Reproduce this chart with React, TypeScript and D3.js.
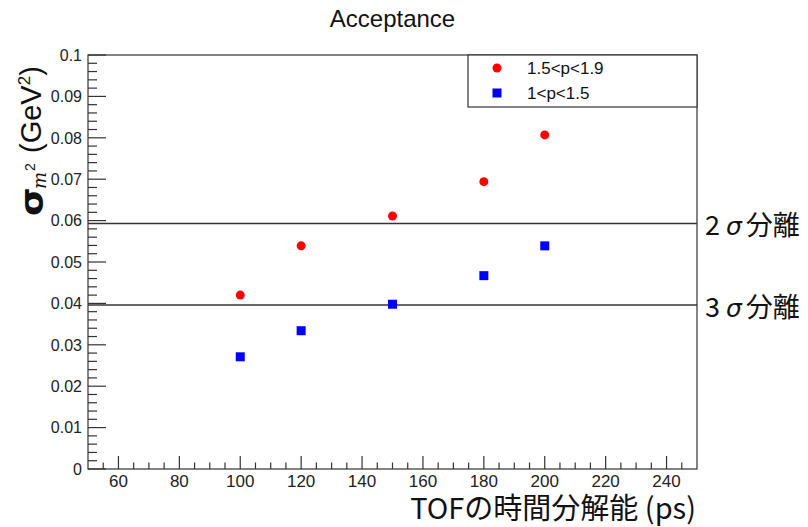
import React from "react";
import * as d3 from "d3";

const resolutions = [100, 120, 150, 180, 200];
const sigmaHighP = [0.042, 0.0539, 0.0611, 0.0694, 0.0807];
const sigmaLowP = [0.0271, 0.0334, 0.0398, 0.0467, 0.0539];
const seriesNames = ["1.5<p<1.9", "1<p<1.5"];
const separationLevels = [0.0593, 0.0396];
const separationNums = ["2", "3"];
const xTicks = [60, 80, 100, 120, 140, 160, 180, 200, 220, 240];
const yTicks = [0, 0.01, 0.02, 0.03, 0.04, 0.05, 0.06, 0.07, 0.08, 0.09, 0.1];
const yTickLabels = ["0", "0.01", "0.02", "0.03", "0.04", "0.05", "0.06", "0.07", "0.08", "0.09", "0.1"];

const W = 808;
const H = 527;
const L = 88, R = 697, T = 55, B = 469;

export default function App() {
  const x = d3.scaleLinear().domain([50, 250]).range([L, R]);
  const y = d3.scaleLinear().domain([0, 0.1]).range([B, T]);
  const xMinor = d3.range(55, 250, 5).filter((v) => v % 20 !== 0);
  const yMinor = d3.range(0, 101, 2).map((v) => v / 1000).filter((v) => Math.round(v * 1000) % 10 !== 0);
  const sans = "'Liberation Sans', Arial, Helvetica, sans-serif";
  const jp = "'Noto Sans CJK JP', 'Noto Sans', sans-serif";
  const axisColor = "#333";
  return (
    <svg width={W} height={H} style={{ position: "absolute", left: 0, top: 0, background: "#fff" }} fontFamily={sans}>
      <rect x={0} y={0} width={W} height={H} fill="#fff" />
      {/* title */}
      <text x={(L + R) / 2} y={27} textAnchor="middle" fontSize={24} fill="#111">Acceptance</text>
      {/* frame */}
      <rect x={L} y={T} width={R - L} height={B - T} fill="none" stroke={axisColor} strokeWidth={1.2} />
      {/* y ticks */}
      {yTicks.map((v, i) => (
        <g key={"yt" + i}>
          <line x1={L} x2={L + 18} y1={y(v)} y2={y(v)} stroke={axisColor} strokeWidth={1.2} />
          <text x={82} y={y(v)} dy="0.36em" textAnchor="end" fontSize={16} fill="#222">{yTickLabels[i]}</text>
        </g>
      ))}
      {yMinor.map((v, i) => (
        <line key={"ym" + i} x1={L} x2={L + 9} y1={y(v)} y2={y(v)} stroke={axisColor} strokeWidth={1.2} />
      ))}
      {/* x ticks */}
      {xTicks.map((v, i) => (
        <g key={"xt" + i}>
          <line x1={x(v)} x2={x(v)} y1={B} y2={B - 13} stroke={axisColor} strokeWidth={1.2} />
          <text x={x(v)} y={487} textAnchor="middle" fontSize={17} fill="#222">{v}</text>
        </g>
      ))}
      {xMinor.map((v, i) => (
        <line key={"xm" + i} x1={x(v)} x2={x(v)} y1={B} y2={B - 6.5} stroke={axisColor} strokeWidth={1.2} />
      ))}
      {/* separation lines */}
      {separationLevels.map((v, i) => (
        <g key={"sep" + i}>
          <line x1={L} x2={R} y1={y(v)} y2={y(v)} stroke="#333" strokeWidth={1.6} />
          <text x={705} y={y(v) + 2} dy="0.36em" fontFamily={jp} fontSize={27} fill="#111">
            <tspan>{separationNums[i]}</tspan>
            <tspan dx={6} fontStyle="italic" fontFamily="'DejaVu Sans', sans-serif" fontSize={25}>σ</tspan>
            <tspan dx={4}>分離</tspan>
          </text>
        </g>
      ))}
      {/* data */}
      {resolutions.map((r, i) => (
        <circle key={"h" + i} cx={x(r)} cy={y(sigmaHighP[i])} r={4.5} fill="#ff0000" />
      ))}
      {resolutions.map((r, i) => (
        <rect key={"l" + i} x={x(r) - 4.5} y={y(sigmaLowP[i]) - 4.5} width={9} height={9} fill="#0000ff" />
      ))}
      {/* legend */}
      <rect x={468} y={T} width={R - 468} height={52} fill="#fff" stroke={axisColor} strokeWidth={1.2} />
      <circle cx={497} cy={68} r={4.5} fill="#ff0000" />
      <text x={527} y={68} dy="0.36em" fontSize={17} fill="#111">{seriesNames[0]}</text>
      <rect x={497 - 4.5} y={93 - 4.5} width={9} height={9} fill="#0000ff" />
      <text x={527} y={93} dy="0.36em" fontSize={17} fill="#111">{seriesNames[1]}</text>
      {/* x title */}
      <text x={696} y={519} textAnchor="end" fontFamily={jp} fontSize={29} fill="#111">TOFの時間分解能 (ps)</text>
      {/* y title */}
      <text transform="translate(43, 216) rotate(-90) scale(1.15, 1)" fontFamily="'DejaVu Sans', sans-serif" fontWeight="bold" fontSize={32} fill="#111">σ</text>
      <text transform="translate(46, 189) rotate(-90)" fontFamily="'DejaVu Serif', serif" fontStyle="italic" fontSize={18} fill="#111">m</text>
      <text transform="translate(35, 171) rotate(-90)" fontSize={14} fill="#111">2</text>
      <text transform="translate(41, 153) rotate(-90)" fill="#111">
        <tspan fontSize={29}>(GeV</tspan>
        <tspan fontSize={17} dy={-11}>2</tspan>
        <tspan fontSize={29} dy={11}>)</tspan>
      </text>
    </svg>
  );
}
